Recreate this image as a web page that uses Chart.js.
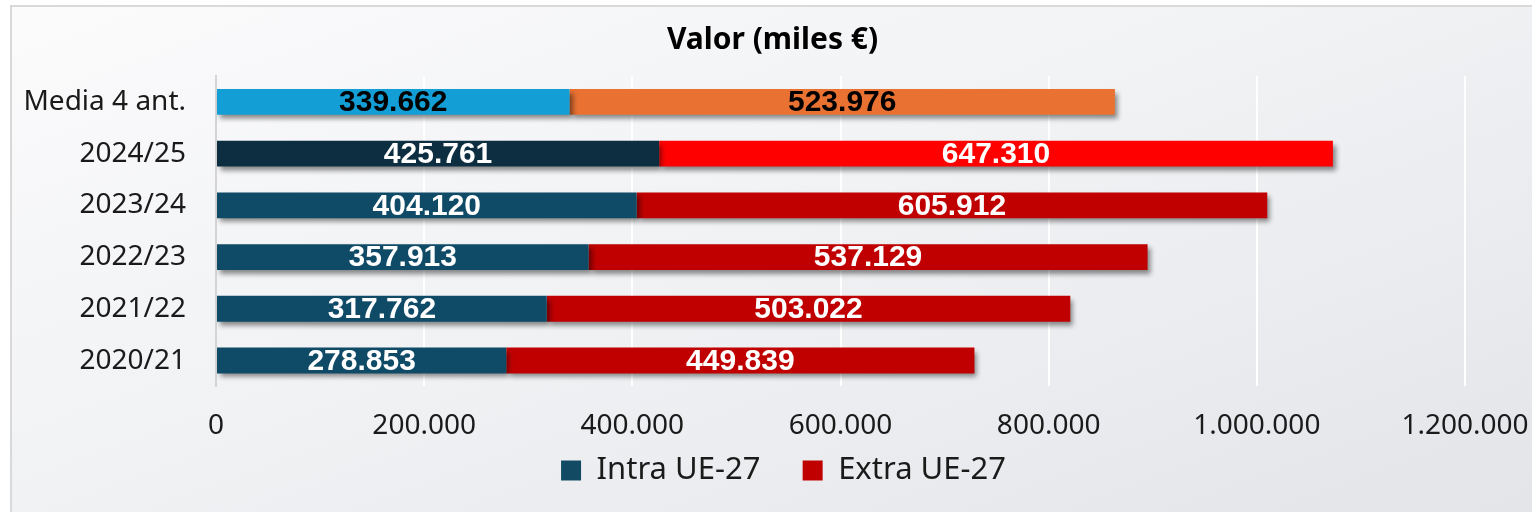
<!DOCTYPE html>
<html>
<head>
<meta charset="utf-8">
<script src="https://cdn.jsdelivr.net/npm/chart.js@4/dist/chart.umd.min.js"></script>
<style>
  html, body { margin: 0; padding: 0; background: #ffffff; }
  #marco {
    position: absolute; left: 10px; top: 5px; width: 1540px; height: 520px;
    border: 2px solid #d9d9d9;
    background: linear-gradient(160deg, #fbfbfc 0%, #f1f2f4 45%, #e3e4e8 100%);
  }
  #wrap { position: absolute; left: 0; top: 0; width: 1532px; height: 512px; }
</style>
</head>
<body>
<div id="marco"></div>
<div id="wrap"><canvas id="chart"></canvas></div>
<script>
// datos (miles de euros)
const categorias = ['Media 4 ant.', '2024/25', '2023/24', '2022/23', '2021/22', '2020/21'];
const intraUE = [339662, 425761, 404120, 357913, 317762, 278853];
const extraUE = [523976, 647310, 605912, 537129, 503022, 449839];
const ticksX = [0, 200000, 400000, 600000, 800000, 1000000, 1200000];

// colores de cada barra
const coloresIntra = ['#139fd6', '#0c2e40', '#0f4b67', '#0f4b67', '#0f4b67', '#0f4b67'];
const coloresExtra = ['#e97233', '#ff0000', '#c00000', '#c00000', '#c00000', '#c00000'];
const coloresTexto = ['#000000', '#ffffff', '#ffffff', '#ffffff', '#ffffff', '#ffffff'];

function miles(n){
	return String(n).replace(/\B(?=(\d{3})+(?!\d))/g, '.');
}

// sombra de las barras
const sombra = {
	id: 'sombra',
	beforeDatasetsDraw(chart){
		const c = chart.ctx;
		c.save();
		c.shadowColor = 'rgba(0,0,0,0.45)';
		c.shadowBlur = 5;
		c.shadowOffsetX = 3;
		c.shadowOffsetY = 4;
	},
	afterDatasetsDraw(chart){
		chart.ctx.restore();
	}
};

// etiquetas de valor en el centro de cada tramo
const etiquetas = {
	id: 'etiquetas',
	afterDraw(chart){
		const c = chart.ctx;
		c.save();
		c.font = 'bold 30px "Liberation Sans", Arial, sans-serif';
		c.textAlign = 'center';
		c.textBaseline = 'middle';
		chart.data.datasets.forEach((ds, di) => {
			const meta = chart.getDatasetMeta(di);
			meta.data.forEach((bar, i) => {
				const p = bar.getProps(['x', 'y', 'base'], true);
				c.fillStyle = coloresTexto[i];
				c.fillText(miles(ds.data[i]), (p.x + p.base) / 2, p.y + 1);
			});
		});
		c.restore();
	}
};

// titulo y leyenda algo desplazados, como en el original
const desplazar = {
	id: 'desplazar',
	afterLayout(chart){
		chart.titleBlock.left += 40;
		chart.titleBlock.right += 40;
		chart.legend.left += 51;
		chart.legend.right += 51;
		chart.legend.top += 2;
		chart.legend.bottom += 2;
	}
};

const ctx = document.querySelector('#chart');
const chart = new Chart(ctx, {
	type: 'bar',
	data: {
		labels: categorias,
		datasets: [{
			label: 'Intra UE-27',
			data: intraUE,
			backgroundColor: coloresIntra,
			categoryPercentage: 1,
			barPercentage: 0.5
		},{
			label: 'Extra UE-27',
			data: extraUE,
			backgroundColor: coloresExtra,
			categoryPercentage: 1,
			barPercentage: 0.5
		}]
	},
	options: {
		indexAxis: 'y',
		responsive: true,
		maintainAspectRatio: false,
		animation: false,
		layout: { padding: { left: 0, right: 67, top: 0, bottom: 18 } },
		scales: {
			x: {
				stacked: true,
				min: 0,
				max: 1200000,
				afterBuildTicks: (s) => { s.ticks = ticksX.map(v => ({ value: v })); },
				ticks: {
					padding: 0,
					color: '#1a1a1a',
					font: { family: '"Noto Sans"', size: 28 },
					callback: (v) => miles(v)
				},
				grid: { color: '#ffffff', lineWidth: 2, drawTicks: true, tickLength: 23, tickColor: 'rgba(0,0,0,0)' },
				border: { display: false }
			},
			y: {
				stacked: true,
				afterFit: (s) => { s.width = 216; },
				ticks: {
					padding: 30,
					color: '#1a1a1a',
					font: { family: '"Noto Sans"', size: 28 }
				},
				grid: { display: false, drawTicks: false },
				border: { display: true, color: '#d4d4d4', width: 2 }
			}
		},
		plugins: {
			title: {
				display: true,
				text: 'Valor (miles €)',
				color: '#000000',
				font: { family: '"Noto Sans"', size: 30, weight: 'bold' },
				padding: { top: 22, bottom: 18 }
			},
			legend: {
				position: 'bottom',
				labels: {
					color: '#1a1a1a',
					boxWidth: 20,
					boxHeight: 20,
					padding: 10,
					font: { family: '"Noto Sans"', size: 31 },
					generateLabels: (chart) => chart.data.datasets.map((ds, i) => ({
						// espacios finales para separar los dos elementos
						text: i === 0 ? ds.label + '\u00a0\u00a0\u00a0\u00a0' : ds.label,
						fillStyle: i === 0 ? '#124a63' : '#c00000',
						strokeStyle: 'transparent',
						lineWidth: 0,
						fontColor: '#1a1a1a',
						datasetIndex: i
					}))
				}
			},
			tooltip: { enabled: false }
		}
	},
	plugins: [sombra, etiquetas, desplazar]
});
</script>
</body>
</html>
